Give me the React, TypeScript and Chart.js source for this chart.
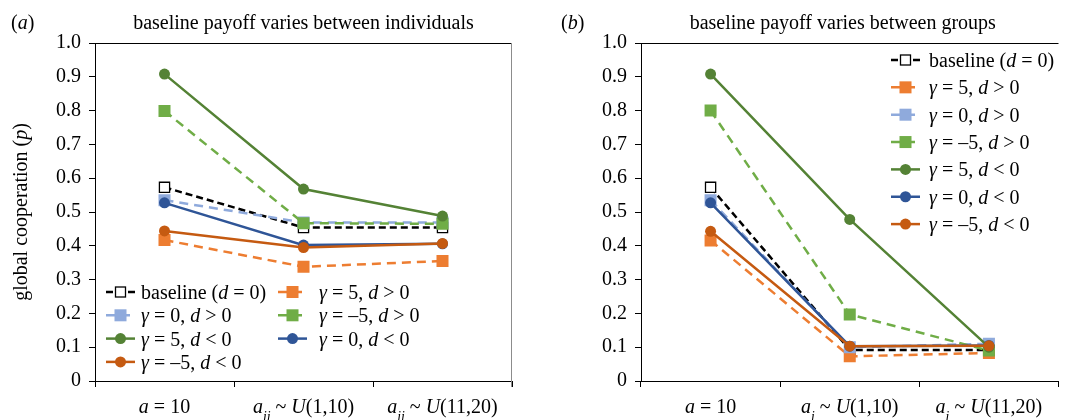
import React, { useEffect, useRef } from "react";
import { Chart, registerables } from "chart.js";

Chart.register(...registerables);

// ---------- data ----------
const categoriesA = ["*a* = 10", "*a*_{ij} ~ *U*(1,10)", "*a*_{ij} ~ *U*(11,20)"];
const categoriesB = ["*a* = 10", "*a*_{i} ~ *U*(1,10)", "*a*_{i} ~ *U*(11,20)"];
const yTickLabels = ["0", "0.1", "0.2", "0.3", "0.4", "0.5", "0.6", "0.7", "0.8", "0.9", "1.0"];
const seriesNames = [
  "baseline (*d* = 0)",
  "*γ* = 5, *d* > 0",
  "*γ* = 0, *d* > 0",
  "*γ* = –5, *d* > 0",
  "*γ* = 5, *d* < 0",
  "*γ* = 0, *d* < 0",
  "*γ* = –5, *d* < 0",
];

// panel (a): baseline payoff varies between individuals
const baselineA = [0.573, 0.454, 0.454];
const g5PosA = [0.417, 0.338, 0.355];
const g0PosA = [0.535, 0.469, 0.469];
const gm5PosA = [0.799, 0.467, 0.465];
const g5NegA = [0.908, 0.568, 0.488];
const g0NegA = [0.527, 0.402, 0.406];
const gm5NegA = [0.444, 0.395, 0.407];

// panel (b): baseline payoff varies between groups
const baselineB = [0.573, 0.092, 0.092];
const g5PosB = [0.416, 0.073, 0.083];
const g0PosB = [0.535, 0.1, 0.11];
const gm5PosB = [0.8, 0.197, 0.09];
const g5NegB = [0.908, 0.478, 0.1];
const g0NegB = [0.527, 0.103, 0.105];
const gm5NegB = [0.443, 0.103, 0.104];

const seriesA = [baselineA, g5PosA, g0PosA, gm5PosA, g5NegA, g0NegA, gm5NegA];
const seriesB = [baselineB, g5PosB, g0PosB, gm5PosB, g5NegB, g0NegB, gm5NegB];

// ---------- styles ----------
type SStyle = { color: string; dash: number[]; point: "rect" | "circle"; open?: boolean };
const styles: SStyle[] = [
  { color: "#000000", dash: [7, 4], point: "rect", open: true },
  { color: "#ED7D31", dash: [9, 6], point: "rect" },
  { color: "#8FAADC", dash: [9, 6], point: "rect" },
  { color: "#70AD47", dash: [9, 6], point: "rect" },
  { color: "#548235", dash: [], point: "circle" },
  { color: "#2F5597", dash: [], point: "circle" },
  { color: "#C55A11", dash: [], point: "circle" },
];

const FAMILY = '"Liberation Serif", "Times New Roman", "DejaVu Serif", serif';
const FS = 20;

// ---------- rich text ----------
type Seg = { t: string; it: boolean; sub: boolean };
function parseRich(s: string): Seg[] {
  const segs: Seg[] = [];
  let buf = "";
  let it = false;
  let i = 0;
  while (i < s.length) {
    const c = s[i];
    if (c === "*") {
      if (buf) segs.push({ t: buf, it, sub: false });
      buf = "";
      it = !it;
      i++;
      continue;
    }
    if (c === "_" && s[i + 1] === "{") {
      if (buf) segs.push({ t: buf, it, sub: false });
      buf = "";
      const end = s.indexOf("}", i);
      segs.push({ t: s.slice(i + 2, end), it: true, sub: true });
      i = end + 1;
      continue;
    }
    buf += c;
    i++;
  }
  if (buf) segs.push({ t: buf, it, sub: false });
  return segs;
}
function fontOf(size: number, it: boolean) {
  return `${it ? "italic " : ""}${size}px ${FAMILY}`;
}
function drawRich(
  ctx: CanvasRenderingContext2D,
  s: string,
  x: number,
  y: number,
  size: number,
  align: "left" | "center"
) {
  const segs = parseRich(s);
  const subSize = size * 0.68;
  let total = 0;
  const widths = segs.map((g) => {
    ctx.font = fontOf(g.sub ? subSize : size, g.it);
    const w = ctx.measureText(g.t).width;
    total += w;
    return w;
  });
  let cx = align === "center" ? x - total / 2 : x;
  ctx.textBaseline = "alphabetic";
  ctx.textAlign = "left";
  ctx.fillStyle = "#000";
  segs.forEach((g, k) => {
    ctx.font = fontOf(g.sub ? subSize : size, g.it);
    ctx.fillText(g.t, cx, g.sub ? y + size * 0.38 : y);
    cx += widths[k];
  });
}

function drawMarker(ctx: CanvasRenderingContext2D, st: SStyle, x: number, y: number) {
  if (st.point === "circle") {
    ctx.fillStyle = st.color;
    ctx.beginPath();
    ctx.arc(x, y, 5.5, 0, Math.PI * 2);
    ctx.fill();
  } else if (st.open) {
    const s = 10;
    ctx.fillStyle = "#fff";
    ctx.fillRect(x - s / 2, y - s / 2, s, s);
    ctx.strokeStyle = "#000";
    ctx.lineWidth = 1.3;
    ctx.setLineDash([]);
    ctx.strokeRect(x - s / 2, y - s / 2, s, s);
  } else {
    const s = 12;
    ctx.fillStyle = st.color;
    ctx.fillRect(x - s / 2, y - s / 2, s, s);
  }
}

type LegendPos = { x1: number; x2: number; tx: number; y: number };

const decorPlugin = {
  id: "decor",
  afterDraw(chart: any, _args: any, opts: any) {
    const ctx: CanvasRenderingContext2D = chart.ctx;
    const a = chart.chartArea;
    ctx.save();
    // frame: top border and optional right border
    ctx.setLineDash([]);
    ctx.lineWidth = 1;
    ctx.strokeStyle = "#000";
    ctx.beginPath();
    ctx.moveTo(a.left, Math.round(a.top) + 0.5);
    ctx.lineTo(a.right, Math.round(a.top) + 0.5);
    ctx.stroke();
    if (opts.rightBorder) {
      ctx.strokeStyle = "#8c8c8c";
      ctx.beginPath();
      ctx.moveTo(Math.round(a.right) - 0.5, a.top);
      ctx.lineTo(Math.round(a.right) - 0.5, a.bottom + 6);
      ctx.stroke();
    }
    // panel letter and title
    drawRich(ctx, opts.panel, opts.panelX, 29, FS, "left");
    drawRich(ctx, opts.title, (a.left + a.right) / 2 + opts.titleOffset, 29, 20, "center");
    // y axis title
    if (opts.yTitle) {
      ctx.save();
      ctx.translate(opts.yTitleX, (a.top + a.bottom) / 2);
      ctx.rotate(-Math.PI / 2);
      drawRich(ctx, opts.yTitle, 0, 0, FS, "center");
      ctx.restore();
    }
    // category labels
    const xs = chart.scales.x;
    (opts.categories as string[]).forEach((c, i) => {
      drawRich(ctx, c, xs.getPixelForValue(i), 413, FS, "center");
    });
    // legend
    (opts.legend as LegendPos[]).forEach((p, i) => {
      const st = styles[i];
      ctx.save();
      ctx.strokeStyle = st.color;
      ctx.lineWidth = 2.5;
      ctx.setLineDash(st.dash);
      ctx.beginPath();
      ctx.moveTo(p.x1, p.y);
      ctx.lineTo(p.x2, p.y);
      ctx.stroke();
      ctx.setLineDash([]);
      drawMarker(ctx, st, (p.x1 + p.x2) / 2, p.y);
      drawRich(ctx, seriesNames[i], p.tx, p.y + 7, FS, "left");
      ctx.restore();
    });
    ctx.restore();
  },
};

type PanelProps = {
  left: number;
  width: number;
  yWidth: number;
  padRight: number;
  series: number[][];
  categories: string[];
  panel: string;
  panelX: number;
  title: string;
  titleOffset: number;
  yTitle?: string;
  yTitleX?: number;
  rightBorder: boolean;
  legend: LegendPos[];
};

function Panel(p: PanelProps) {
  const ref = useRef<HTMLCanvasElement>(null);
  useEffect(() => {
    const datasets = p.series.map((vals, i) => {
      const st = styles[i];
      return {
        label: seriesNames[i],
        data: vals,
        borderColor: st.color,
        backgroundColor: st.open ? "#ffffff" : st.color,
        borderWidth: 2.5,
        borderDash: st.dash,
        pointStyle: st.point,
        pointRadius: st.point === "circle" ? 5.5 : st.open ? 7.2 : 8.5,
        pointBorderWidth: st.open ? 1.3 : 0,
        pointBorderColor: st.color,
        pointBackgroundColor: st.open ? "#ffffff" : st.color,
        tension: 0,
        fill: false,
        order: 10 - i,
      };
    });
    const chart = new Chart(ref.current as HTMLCanvasElement, {
      type: "line",
      data: { labels: p.categories, datasets },
      plugins: [decorPlugin as any],
      options: {
        animation: false,
        responsive: false,
        events: [],
        layout: { padding: { top: 43, right: p.padRight, left: 0, bottom: 0 } },
        plugins: {
          legend: { display: false },
          tooltip: { enabled: false },
          title: { display: false },
          decor: {
            panel: p.panel,
            panelX: p.panelX,
            title: p.title,
            titleOffset: p.titleOffset,
            yTitle: p.yTitle,
            yTitleX: p.yTitleX,
            categories: p.categories,
            rightBorder: p.rightBorder,
            legend: p.legend,
          },
        } as any,
        scales: {
          x: {
            type: "category",
            offset: true,
            grid: {
              offset: true,
              drawOnChartArea: false,
              drawTicks: true,
              tickLength: 6,
              color: "#000",
              lineWidth: 1,
            },
            border: { color: "#000", width: 1 },
            ticks: { display: false },
            afterFit: (s: any) => {
              s.height = 39;
            },
          },
          y: {
            min: 0,
            max: 1,
            ticks: {
              stepSize: 0.1,
              callback: (_v: any, i: number) => yTickLabels[i],
              font: { family: FAMILY, size: FS },
              color: "#000",
              padding: 8,
            },
            grid: { drawOnChartArea: false, tickLength: 6, color: "#000", lineWidth: 1 },
            border: { color: "#000", width: 1 },
            afterFit: (s: any) => {
              s.width = p.yWidth;
            },
          },
        },
      } as any,
    });
    return () => chart.destroy();
  }, []);
  return (
    <canvas
      ref={ref}
      width={p.width}
      height={420}
      style={{ position: "absolute", left: p.left, top: 0, width: p.width, height: 420 }}
    />
  );
}

const legendA: LegendPos[] = [0, 1, 2, 3, 4, 5, 6].map((i) => {
  const col = i % 2;
  const row = Math.floor(i / 2);
  return col === 0
    ? { x1: 106, x2: 135, tx: 141, y: 292 + row * 23.3 }
    : { x1: 278, x2: 307, tx: 319, y: 292 + row * 23.3 };
});
const legendB: LegendPos[] = [0, 1, 2, 3, 4, 5, 6].map((i) => ({
  x1: 358,
  x2: 387,
  tx: 396,
  y: 60 + i * 27.35,
}));

export default function App() {
  useEffect(() => {
    document.body.style.margin = "0";
    document.body.style.background = "#fff";
  }, []);
  return (
    <div style={{ position: "relative", width: 1067, height: 420, overflow: "hidden", background: "#fff" }}>
      <Panel
        left={0}
        width={530}
        yWidth={95}
        padRight={18}
        series={seriesA}
        categories={categoriesA}
        panel="(*a*)"
        panelX={11}
        title="baseline payoff varies between individuals"
        titleOffset={0}
        yTitle="global cooperation (*p*)"
        yTitleX={27}
        rightBorder={true}
        legend={legendA}
      />
      <Panel
        left={533}
        width={534}
        yWidth={108}
        padRight={0}
        series={seriesB}
        categories={categoriesB}
        panel="(*b*)"
        panelX={28}
        title="baseline payoff varies between groups"
        titleOffset={-7}
        rightBorder={false}
        legend={legendB}
      />
    </div>
  );
}
